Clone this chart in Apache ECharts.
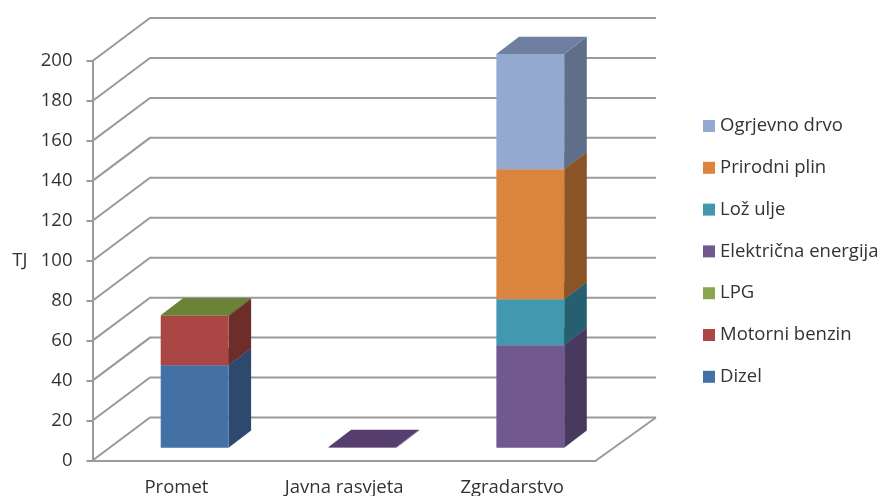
<!DOCTYPE html>
<html>
<head>
<meta charset="utf-8">
<script src="https://cdn.jsdelivr.net/npm/echarts@6/dist/echarts.min.js"></script>
<style>html,body{margin:0;padding:0;background:#fff}#c{width:882px;height:496px}</style>
</head>
<body>
<div id="c"></div>
<script>
const categories = ['Promet', 'Javna rasvjeta', 'Zgradarstvo'];
const yTicks = [0, 20, 40, 60, 80, 100, 120, 140, 160, 180, 200];
const seriesNames = ['Dizel', 'Motorni benzin', 'LPG', 'Električna energija', 'Lož ulje', 'Prirodni plin', 'Ogrjevno drvo'];
const dizel = [41.3, 0, 0];
const motorniBenzin = [24.7, 0, 0];
const lpg = [0.3, 0, 0];
const elektricnaEnergija = [0, 0.4, 51.4];
const lozUlje = [0, 0, 23];
const prirodniPlin = [0, 0, 65];
const ogrjevnoDrvo = [0, 0, 57.7];
const seriesValues = [dizel, motorniBenzin, lpg, elektricnaEnergija, lozUlje, prirodniPlin, ogrjevnoDrvo];

const frontColors = ['#4371A6', '#AA4643', '#89A54E', '#71588F', '#4198AF', '#DB843D', '#93A9CF'];
const sideColors = ['#2D4A6E', '#6C2D2B', '#586A32', '#483A5E', '#266070', '#8A5427', '#5F6F8A'];
const topColors = ['#375C88', '#883836', '#6B8238', '#563F6F', '#2F7488', '#AB6830', '#6E7F9F'];

// projection of the 3D box
const wallDxLeft = 57.5, wallDxRight = 60, wallDy = -43;
const barDx = 22.6, barDy = -17.3;
const barFrontDx = 18.2, barFrontDy = -12.7;
const barWidthRatio = 0.404;
const gridColor = '#9A9A9A';
const lineW = 2;

function renderWall(params, api) {
  const v = api.value(1);
  const band = api.size([1, 0])[0];
  const pL = api.coord([0, v]);
  const pR = api.coord([categories.length - 1, v]);
  const xl = pL[0] - band / 2, xr = pR[0] + band / 2, y = pL[1];
  const children = [{
    type: 'polyline',
    shape: { points: [[xl, y], [xl + wallDxLeft, y + wallDy], [xr + wallDxRight, y + wallDy]] },
    style: { stroke: gridColor, lineWidth: lineW, fill: null }
  }];
  if (v === 0) {
    children.push({
      type: 'line',
      shape: { x1: xr, y1: y, x2: xr + wallDxRight, y2: y + wallDy },
      style: { stroke: gridColor, lineWidth: lineW }
    });
  }
  return { type: 'group', children };
}

function renderSegment(idx) {
  return function (params, api) {
    const val = api.value(1);
    if (!val) return null;
    const base = api.value(2);
    const band = api.size([1, 0])[0];
    const w = band * barWidthRatio;
    const b = api.coord([api.value(0), base]);
    const t = api.coord([api.value(0), base + val]);
    const x0 = b[0] - w / 2 + barFrontDx;
    const x1 = x0 + w;
    const yb = b[1] + barFrontDy, yt = t[1] + barFrontDy;
    return {
      type: 'group',
      children: [
        { type: 'polygon', shape: { points: [[x1, yb], [x1 + barDx, yb + barDy], [x1 + barDx, yt + barDy], [x1, yt]] }, style: { fill: sideColors[idx] } },
        { type: 'polygon', shape: { points: [[x0, yt], [x1, yt], [x1 + barDx, yt + barDy], [x0 + barDx, yt + barDy]] }, style: { fill: topColors[idx] } },
        { type: 'rect', shape: { x: x0, y: yt, width: w, height: yb - yt }, style: { fill: frontColors[idx] } }
      ]
    };
  };
}

const running = categories.map(() => 0);
const barSeries = seriesNames.map((name, s) => {
  const data = categories.map((c, i) => {
    const item = [i, seriesValues[s][i], running[i]];
    running[i] += seriesValues[s][i];
    return item;
  });
  return {
    name, type: 'custom', renderItem: renderSegment(s), data,
    itemStyle: { color: frontColors[s] }, silent: true,
    encode: { x: 0, y: 1 }
  };
});

const textColor = '#333333';
const fontFamily = '"Open Sans", "Noto Sans", sans-serif';
const fontSize = 18.5;
const chart = echarts.init(document.getElementById('c'), null, { renderer: 'canvas' });
chart.setOption({
  animation: false,
  backgroundColor: '#fff',
  textStyle: { fontFamily },
  grid: { left: 92.5, right: 286, top: 61, bottom: 35.5, outerBoundsMode: 'none' },
  legend: {
    orient: 'vertical',
    left: 698,
    top: 111.5,
    icon: 'rect',
    itemWidth: 12,
    itemHeight: 12,
    itemGap: 22.8,
    selectedMode: false,
    data: seriesNames.slice().reverse(),
    textStyle: { color: textColor, fontSize, fontFamily, lineHeight: 19 }
  },
  xAxis: {
    type: 'category',
    data: categories,
    axisLine: { lineStyle: { color: gridColor, width: lineW } },
    axisTick: { alignWithLabel: false, length: 5, lineStyle: { color: gridColor, width: lineW } },
    axisLabel: { color: textColor, fontSize, fontFamily, margin: 18 }
  },
  yAxis: {
    type: 'value',
    min: 0, max: 200, interval: 20,
    name: 'TJ',
    nameLocation: 'middle',
    nameRotate: 0,
    nameGap: 65,
    nameTextStyle: { color: textColor, fontSize, fontFamily },
    axisLine: { show: true, lineStyle: { color: gridColor, width: lineW } },
    axisTick: { show: true, length: 6, lineStyle: { color: gridColor, width: lineW } },
    axisLabel: { color: textColor, fontSize, fontFamily, margin: 20, padding: [4, 0, 0, 0] },
    splitLine: { show: false }
  },
  series: [{
    type: 'custom', name: 'grid', renderItem: renderWall, silent: true,
    data: yTicks.map(v => [0, v]), encode: { x: 0, y: 1 }
  }].concat(barSeries)
});
</script>
</body>
</html>
